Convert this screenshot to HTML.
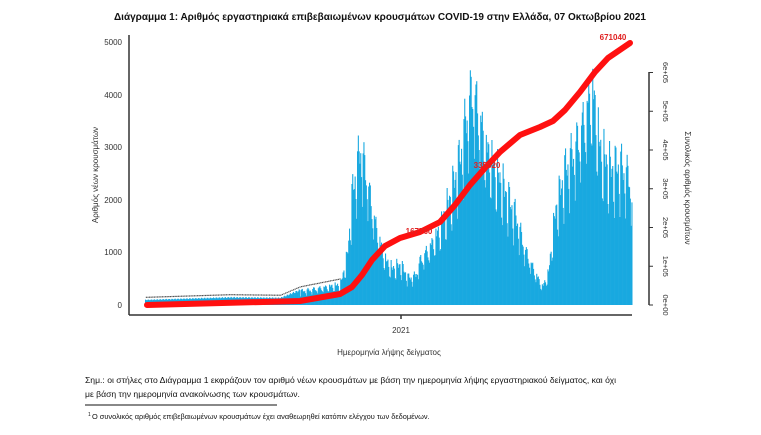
<!DOCTYPE html><html><head><meta charset="utf-8"><style>
body{margin:0;background:#fff;width:761px;height:435px;overflow:hidden;font-family:"Liberation Sans",sans-serif}
svg{position:absolute;left:0;top:0}
</style></head><body>
<svg id="s" width="761" height="435" xmlns="http://www.w3.org/2000/svg" font-family="Liberation Sans, sans-serif">
<text x="380" y="20" text-anchor="middle" font-size="10" font-weight="bold" fill="#111">Διάγραμμα 1: Αριθμός εργαστηριακά επιβεβαιωμένων κρουσμάτων COVID-19 στην Ελλάδα, 07 Οκτωβρίου 2021</text>
<g id="bars" fill="#19a9e0"></g>
<g id="dots" fill="#555"></g>
<polyline fill="none" stroke="#ff1010" stroke-width="6" stroke-linecap="round" stroke-linejoin="round" points="147,305 300,301 340,294 352,287 362,275 372,260 385,246 400,238 420,232 440,222 455,205 470,185 485,168 500,152 520,135 540,127 553,121 565,110 580,92 595,72 608,58 630,43"/>
<text x="613" y="40" font-size="8" font-weight="bold" fill="#e02020" text-anchor="middle">671040</text>
<text x="487" y="168" font-size="8" font-weight="bold" fill="#e02020" text-anchor="middle">335520</text>
<text x="419" y="234" font-size="8" font-weight="bold" fill="#e02020" text-anchor="middle">167760</text>
<g stroke="#333" stroke-width="1.5" fill="none">
<line x1="129" y1="35" x2="129" y2="315"/><line x1="129" y1="315" x2="632" y2="315"/>
<line x1="401" y1="315" x2="401" y2="319"/>
<line x1="649" y1="72" x2="649" y2="305"/>
</g>
<g font-size="8" fill="#333" text-anchor="end">
<text x="122" y="308">0</text><text x="122" y="255">1000</text><text x="122" y="203">2000</text><text x="122" y="150">3000</text><text x="122" y="98">4000</text><text x="122" y="45">5000</text>
</g>
<g id="rt" stroke="#333" stroke-width="1"></g>
<text x="401" y="333" font-size="8" fill="#333" text-anchor="middle">2021</text>
<text x="389" y="355" font-size="8" fill="#333" text-anchor="middle">Ημερομηνία λήψης δείγματος</text>
<text transform="translate(98,175) rotate(-90)" font-size="8" fill="#333" text-anchor="middle">Αριθμός νέων κρουσμάτων</text>
<text transform="translate(685,188) rotate(90)" font-size="8" fill="#333" text-anchor="middle">Συνολικός αριθμός κρουσμάτων</text>
<text x="85" y="383" font-size="8.6" fill="#111">Σημ.: οι στήλες στο Διάγραμμα 1 εκφράζουν τον αριθμό νέων κρουσμάτων με βάση την ημερομηνία λήψης εργαστηριακού δείγματος, και όχι</text>
<text x="85" y="397" font-size="8.6" fill="#111">με βάση την ημερομηνία ανακοίνωσης των κρουσμάτων.</text>
<line x1="85" y1="405" x2="277" y2="405" stroke="#111" stroke-width="1"/>
<text x="88" y="416" font-size="5" fill="#111">1</text>
<text x="92" y="419" font-size="7.4" fill="#111">Ο συνολικός αριθμός επιβεβαιωμένων κρουσμάτων έχει αναθεωρηθεί κατόπιν ελέγχου των δεδομένων.</text>
</svg>
<script>
var ns="http://www.w3.org/2000/svg";
var cp=[[145,100],[230,150],[280,140],[300,300],[340,450],[347,1100],[352,2500],[356,3000],[360,3500],[365,3000],[372,2100],[378,1500],[385,1000],[392,800],[400,900],[408,600],[415,650],[420,1000],[430,1300],[440,1700],[450,2400],[460,3300],[466,4200],[472,4800],[478,4300],[485,3500],[495,3000],[505,2500],[515,2000],[525,1200],[535,700],[542,400],[548,700],[555,2100],[565,3000],[575,3500],[585,4200],[592,4800],[600,3400],[610,3000],[620,3100],[630,2800],[632,2000]];
function v(x){for(var i=0;i<cp.length-1;i++){if(x>=cp[i][0]&&x<=cp[i+1][0]){var t=(x-cp[i][0])/(cp[i+1][0]-cp[i][0]);return cp[i][1]+t*(cp[i+1][1]-cp[i][1]);}}return 0;}
var b=document.getElementById("bars"),d=document.getElementById("dots"),n=0;
for(var x=145;x<632;x+=0.8){n++;var f=[1,0.97,0.93,0.9,0.85,0.7,0.62][n%7];var val=v(x)*(x<300?1:f)*(0.95+0.08*Math.sin(n*1.7));var h=val*0.0526;
var r=document.createElementNS(ns,"rect");r.setAttribute("x",x.toFixed(1));r.setAttribute("y",(305-h).toFixed(1));r.setAttribute("width","1.1");r.setAttribute("height",h.toFixed(1));b.appendChild(r);
if(x<340&&n%2==0){var c=document.createElementNS(ns,"rect");c.setAttribute("x",x.toFixed(1));c.setAttribute("y",(305-v(x)*0.0526-3).toFixed(1));c.setAttribute("width","1.2");c.setAttribute("height","1.2");d.appendChild(c);}}
var rt=document.getElementById("rt"),sv=document.getElementById("s");
for(var i=0;i<=6;i++){var y=305-i*38.75;var l=document.createElementNS(ns,"line");l.setAttribute("x1",649);l.setAttribute("x2",653);l.setAttribute("y1",y);l.setAttribute("y2",y);rt.appendChild(l);
var t=document.createElementNS(ns,"text");t.setAttribute("transform","translate(663,"+y+") rotate(90)");t.setAttribute("font-size","7.5");t.setAttribute("fill","#333");t.setAttribute("text-anchor","middle");t.textContent=i?i+"e+05":"0e+00";sv.appendChild(t);}
</script>
</body></html>
